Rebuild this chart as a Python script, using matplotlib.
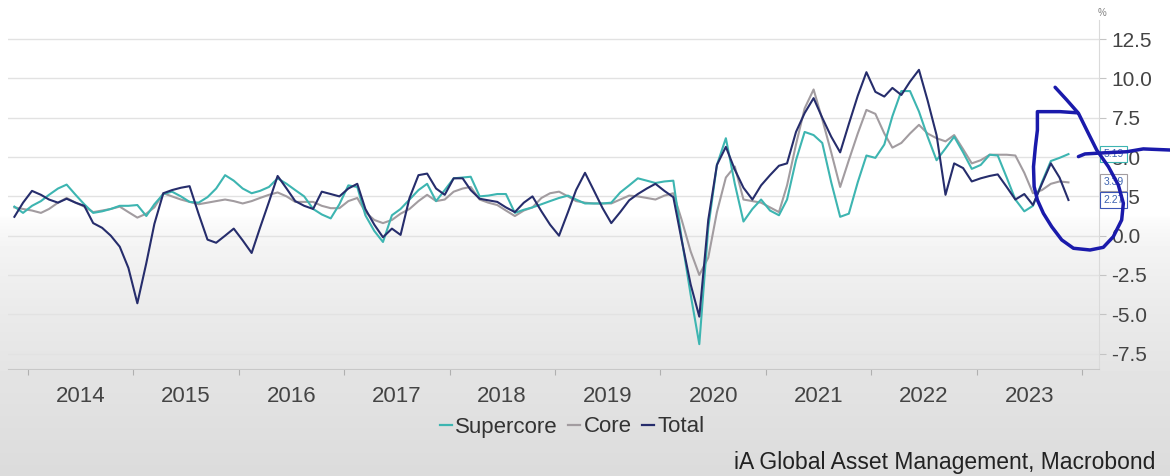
import datetime as dt

import matplotlib
matplotlib.use("Agg")
import matplotlib.pyplot as plt
import matplotlib.dates as mdates
import matplotlib.transforms as mtransforms
from matplotlib.lines import Line2D
from matplotlib.ticker import FixedLocator, FixedFormatter, NullFormatter
import numpy as np
import pandas as pd

plt.rcParams["font.family"] = ["Liberation Sans", "DejaVu Sans"]

# monthly readings, Nov 2013 .. Nov 2023 (plotted mid-month)
months = pd.date_range("2013-11-01", "2023-11-01", freq="MS") + pd.Timedelta(days=14)

supercore = [
    1.85, 1.45, 1.9, 2.2, 2.6, 3.0, 3.25, 2.6, 2.0, 1.45,
    1.55, 1.7, 1.9, 1.9, 1.95, 1.25, 2.0, 2.65, 2.8, 2.5,
    2.15, 2.1, 2.45, 3.0, 3.85, 3.5, 3.0, 2.7, 2.85, 3.1,
    3.65, 3.3, 2.9, 2.5, 1.7, 1.35, 1.1, 2.0, 3.2, 3.1,
    1.3, 0.3, -0.4, 1.3, 1.7, 2.3, 2.9, 3.3, 2.2, 2.9,
    3.65, 3.7, 3.75, 2.5, 2.55, 2.65, 2.65, 1.45, 1.65, 1.8,
    2.0, 2.2, 2.4, 2.55, 2.3, 2.05, 2.05, 2.05, 2.1, 2.75,
    3.2, 3.65, 3.5, 3.35, 3.45, 3.5, -0.2, -3.75, -6.9, 0.5,
    4.5, 6.2, 3.3, 0.9, 1.7, 2.3, 1.6, 1.3, 2.3, 4.8,
    6.6, 6.4, 5.9, 3.4, 1.2, 1.4, 3.4, 5.1, 4.95, 5.8,
    7.6, 9.2, 9.2, 7.9, 6.3, 4.8, 5.55, 6.3, 5.3, 4.25,
    4.5, 5.15, 5.1, 3.7, 2.3, 1.55, 1.9, 3.4, 4.75, 4.95,
    5.19,
]
core = [
    1.8, 1.7, 1.6, 1.45, 1.7, 2.1, 2.4, 2.1, 1.85, 1.5,
    1.6, 1.7, 1.85, 1.5, 1.15, 1.4, 1.8, 2.7, 2.5, 2.3,
    2.15, 2.0, 2.1, 2.2, 2.3, 2.2, 2.05, 2.2, 2.4, 2.6,
    2.75, 2.5, 2.15, 2.15, 2.15, 1.9, 1.75, 1.75, 2.2, 2.4,
    1.5, 1.0, 0.8, 1.0, 1.4, 1.7, 2.2, 2.6, 2.2, 2.3,
    2.8, 3.0, 3.1, 2.3, 2.1, 1.95, 1.6, 1.25, 1.6, 1.8,
    2.4, 2.7, 2.8, 2.5, 2.2, 2.1, 2.05, 2.05, 2.05, 2.3,
    2.55, 2.5, 2.4, 2.3, 2.55, 2.7, 1.0, -1.0, -2.5, -1.4,
    1.5, 3.7, 4.4, 2.3, 2.2, 2.1, 1.8, 1.5, 3.2, 5.8,
    8.1, 9.3, 7.4, 5.3, 3.1, 4.8, 6.5, 8.0, 7.75, 6.5,
    5.6, 5.9, 6.5, 7.05, 6.5, 6.2, 6.0, 6.4, 5.5, 4.6,
    4.8, 5.15, 5.15, 5.15, 5.1, 4.0, 2.7, 2.9, 3.3, 3.45,
    3.39,
]
total = [
    1.2, 2.1, 2.85, 2.6, 2.3, 2.1, 2.35, 2.1, 1.9, 0.8,
    0.5, 0.0, -0.7, -2.05, -4.3, -1.75, 0.75, 2.7, 2.9, 3.05,
    3.15, 1.4, -0.25, -0.45, 0.0, 0.45, -0.3, -1.1, 0.5, 2.15,
    3.8, 3.0, 2.2, 1.9, 1.7, 2.8, 2.65, 2.5, 3.0, 3.3,
    1.7, 0.7, -0.1, 0.45, 0.05, 2.4, 3.85, 3.95, 3.0, 2.6,
    3.65, 3.65, 2.9, 2.35, 2.25, 2.15, 1.8, 1.5, 2.1, 2.5,
    1.55, 0.7, 0.0, 1.5, 2.9, 4.0, 2.9, 1.75, 0.8, 1.5,
    2.25, 2.65, 3.0, 3.3, 2.85, 2.45, -0.3, -3.1, -5.15, 1.0,
    4.5, 5.65, 4.2, 3.05, 2.3, 3.2, 3.85, 4.45, 4.6, 6.6,
    7.8, 8.75, 7.5, 6.3, 5.3, 7.1, 8.9, 10.4, 9.15, 8.85,
    9.4, 8.95, 9.8, 10.55, 8.6, 6.4, 2.6, 4.6, 4.3, 3.45,
    3.65, 3.8, 3.9, 3.1, 2.3, 2.65, 1.95, 3.3, 4.6, 3.7,
    2.27,
]

series_names = ["Supercore", "Core", "Total"]
year_edges = list(range(2014, 2025))
year_labels = [str(y) for y in range(2014, 2024)]
y_ticks = [-7.5, -5.0, -2.5, 0.0, 2.5, 5.0, 7.5, 10.0, 12.5]

# hand-drawn pen markup on the screenshot (decimal years, %)
loop_x = [2023.744, 2023.855, 2023.965, 2024.060, 2024.139, 2024.250, 2024.344,
          2024.392, 2024.376, 2024.297, 2024.202, 2024.076, 2023.918, 2023.807,
          2023.712, 2023.633, 2023.576, 2023.545, 2023.539, 2023.557, 2023.576,
          2023.576, 2023.791, 2023.949]
loop_y = [9.44, 8.63, 7.79, 6.51, 5.45, 4.39, 3.23, 2.06, 1.00, -0.06, -0.74,
          -0.91, -0.80, -0.27, 0.57, 1.42, 2.27, 3.12, 4.39, 5.66, 6.72, 7.89,
          7.89, 7.82]
dash_x = [2023.965, 2024.028, 2024.234, 2024.424, 2024.581, 2024.834]
dash_y = [5.03, 5.20, 5.28, 5.34, 5.52, 5.45]

C_SUPER = "#3db5b1"
C_CORE = "#a29ca0"
C_TOTAL = "#262d6c"
C_PEN = "#1a1aab"


def dec_year(v):
    y = int(np.floor(v))
    return dt.datetime(y, 1, 1) + dt.timedelta(days=(v - y) * 365.25)


W, H = 1170, 476
fig = plt.figure(figsize=(W / 100, H / 100), dpi=100)

# photo-like grey fade at the bottom
bg = fig.add_axes([0, 0, 1, 1], zorder=-5)
rows = np.arange(H)
shade = np.where(rows < 215, 1.0, 1.0 - 0.14 * np.clip((rows - 215) / 261, 0, 1) ** 0.55)
bg.imshow(np.repeat(shade[:, None], 4, axis=1), cmap="gray", vmin=0, vmax=1,
          aspect="auto", extent=[0, 1, 0, 1], origin="upper")
bg.axis("off")

ax = fig.add_axes([8 / W, 1 - 369 / H, (1099 - 8) / W, (369 - 20) / H])
ax.patch.set_alpha(0)

ax.plot(months, core, color=C_CORE, lw=1.5, zorder=3)
ax.plot(months, supercore, color=C_SUPER, lw=1.5, zorder=4)
ax.plot(months, total, color=C_TOTAL, lw=1.5, zorder=5)

ax.set_ylim(-8.48, 13.72)
ax.set_xlim(dec_year(2013.81), dec_year(2024.161))

ax.set_yticks(y_ticks)
ax.set_yticklabels([f"{v:.1f}" for v in y_ticks])
ax.yaxis.tick_right()
ax.grid(axis="y", color="#e2e2e2", lw=1.0)
ax.set_axisbelow(True)
ax.tick_params(axis="y", length=5, color="#c4c4c4", pad=4, labelsize=15,
               labelcolor="#444444")

ax.xaxis.set_major_locator(FixedLocator(
    [mdates.date2num(dt.datetime(y, 1, 1)) for y in year_edges]))
ax.xaxis.set_major_formatter(NullFormatter())
ax.xaxis.set_minor_locator(FixedLocator(
    [mdates.date2num(dt.datetime(int(y), 7, 2)) for y in year_labels]))
ax.xaxis.set_minor_formatter(FixedFormatter(year_labels))
ax.tick_params(axis="x", which="major", length=4, color="#b0b0b0")
ax.tick_params(axis="x", which="minor", length=0, pad=12, labelsize=16,
               labelcolor="#444444")

for s in ["top", "left"]:
    ax.spines[s].set_visible(False)
ax.spines["bottom"].set_color("#c8c8c8")
ax.spines["right"].set_color("#dadada")

# last-value tags on the right axis (they sit over the tick labels, as in the source)
tag = mtransforms.blended_transform_factory(ax.transAxes, ax.transData)
for vals, ec in [(supercore, C_SUPER), (core, C_CORE), (total, "#3a55b5")]:
    ax.text(1.004, vals[-1], f"{vals[-1]:.2f}", transform=tag, ha="left",
            va="center", fontsize=7.5, color="#3d62b0", zorder=7,
            bbox=dict(boxstyle="square,pad=0.3", fc="white", ec=ec, lw=0.8))

# pen scribbles
ax.plot([dec_year(v) for v in loop_x], loop_y, color=C_PEN, lw=2.5,
        solid_capstyle="round", solid_joinstyle="round", clip_on=False, zorder=8)
ax.plot([dec_year(v) for v in dash_x], dash_y, color=C_PEN, lw=2.5,
        solid_capstyle="round", clip_on=False, zorder=8)

fig.text(1102 / W, 1 - 13 / H, "%", fontsize=7, color="#808080",
         ha="center", va="center")

handles = [Line2D([0], [0], color=c, lw=1.6) for c in (C_SUPER, C_CORE, C_TOTAL)]
fig.legend(handles, series_names, loc="center", ncol=3,
           bbox_to_anchor=(572 / W, 1 - 427 / H), frameon=False, fontsize=16,
           handlelength=0.55, handletextpad=0.15, columnspacing=0.45,
           labelcolor="#333333")

fig.text(1155 / W, 1 - 462 / H, "iA Global Asset Management, Macrobond",
         ha="right", va="center", fontsize=16.5, color="#222222")

fig.savefig("out.png", dpi=100)
